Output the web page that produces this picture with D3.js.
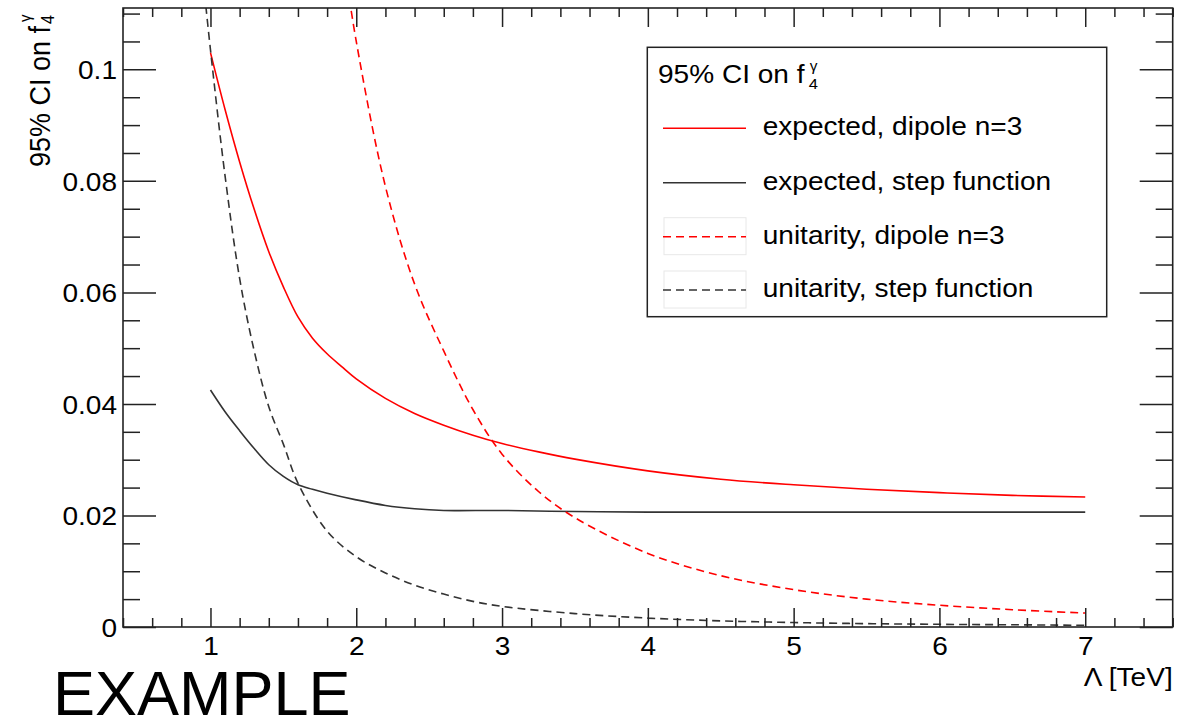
<!DOCTYPE html>
<html>
<head>
<meta charset="utf-8">
<script src="https://cdn.jsdelivr.net/npm/d3@7"></script>
<style>
  body { margin: 0; background: #fff; }
  svg { display: block; }
  text { font-family: "Liberation Sans", Arial, Helvetica, sans-serif; fill: #000; }
</style>
</head>
<body>
<svg id="chart" width="1181" height="718"></svg>
<script>
// values
const lambdaExpDipole = [1.0, 1.1, 1.2, 1.3, 1.4, 1.5, 1.6, 1.7, 1.8, 1.9, 2.0, 2.2, 2.4, 2.6, 2.8, 3.0, 3.25, 3.5, 4.0, 4.5, 5.0, 5.5, 6.0, 6.5, 7.0];
const ciExpDipole = [0.103, 0.0928, 0.0834, 0.0749, 0.0673, 0.061, 0.0556, 0.0518, 0.049, 0.0467, 0.0445, 0.041, 0.0383, 0.0362, 0.0344, 0.0329, 0.0314, 0.0301, 0.028, 0.0265, 0.0255, 0.0247, 0.0241, 0.0236, 0.0233];

const lambdaExpStep = [1.0, 1.1, 1.2, 1.3, 1.4, 1.5, 1.6, 1.7, 1.8, 2.0, 2.2, 2.4, 2.6, 3.0, 3.5, 4.0, 5.0, 6.0, 7.0];
const ciExpStep = [0.0425, 0.0386, 0.0352, 0.032, 0.0291, 0.027, 0.0255, 0.0247, 0.024, 0.0228, 0.0218, 0.0212, 0.0209, 0.0209, 0.0207, 0.0206, 0.0206, 0.0206, 0.0206];

const lambdaUniDipole = [1.9, 2.0, 2.2, 2.4, 2.6, 2.8, 3.0, 3.25, 3.5, 4.0, 4.5, 5.0, 5.5, 6.0, 6.5, 7.0];
const ciUniDipole = [0.122, 0.105, 0.079, 0.0615, 0.0495, 0.039, 0.031, 0.0243, 0.0196, 0.0132, 0.0092, 0.0067, 0.005, 0.0039, 0.0031, 0.0025];

const lambdaUniStep = [0.95, 1.0, 1.1, 1.2, 1.3, 1.4, 1.5, 1.6, 1.8, 2.0, 2.2, 2.4, 2.6, 2.8, 3.0, 3.5, 4.0, 4.5, 5.0, 5.5, 6.0, 6.5, 7.0];
const ciUniStep = [0.116, 0.1035, 0.0809, 0.0625, 0.0495, 0.0395, 0.0328, 0.0258, 0.0172, 0.0126, 0.0097, 0.0075, 0.0059, 0.0046, 0.0037, 0.0024, 0.0016, 0.0011, 0.0008, 0.0006, 0.00048, 0.0004, 0.0003];

const xTicks = [1, 2, 3, 4, 5, 6, 7];
const xTickLabels = ["1", "2", "3", "4", "5", "6", "7"];
const yTicks = [0, 0.02, 0.04, 0.06, 0.08, 0.1];
const yTickLabels = ["0", "0.02", "0.04", "0.06", "0.08", "0.1"];

const legendLabels = ["expected, dipole n=3", "expected, step function", "unitarity, dipole n=3", "unitarity, step function"];

var svg = d3.select("#chart"),
  margin = { top: 8, right: 8.3, bottom: 91, left: 123 },
  W = +svg.attr("width"),
  H = +svg.attr("height"),
  SX = 1.1; // text in the picture is a bit wide

const x = d3.scaleLinear().domain([0.4, 7.6]).range([margin.left, W - margin.right]);
const y = d3.scaleLinear().domain([0, 0.111]).range([H - margin.bottom, margin.top]);

const series = [
  { xs: lambdaExpDipole, ys: ciExpDipole, color: "#ff0000", dash: null },
  { xs: lambdaExpStep, ys: ciExpStep, color: "#333", dash: null },
  { xs: lambdaUniDipole, ys: ciUniDipole, color: "#ff0000", dash: "8,5" },
  { xs: lambdaUniStep, ys: ciUniStep, color: "#333", dash: "8,5" },
];

svg.append("defs").append("clipPath").attr("id", "clip")
  .append("rect")
  .attr("x", x.range()[0]).attr("y", y.range()[1])
  .attr("width", x.range()[1] - x.range()[0])
  .attr("height", y.range()[0] - y.range()[1]);

const line = d3.line()
  .x((d) => x(d[0]))
  .y((d) => y(d[1]))
  .curve(d3.curveCatmullRom.alpha(0.5));

svg.append("g").attr("clip-path", "url(#clip)")
  .selectAll("path")
  .data(series)
  .enter()
  .append("path")
  .attr("d", (s) => line(s.xs.map((v, i) => [v, s.ys[i]])))
  .attr("fill", "none")
  .attr("stroke", (s) => s.color)
  .attr("stroke-width", 1.6)
  .attr("stroke-dasharray", (s) => s.dash);

// axes, ticks inside the frame on all four sides
const xMinor = d3.range(4, 77, 2).map((v) => v / 10).filter((v) => !xTicks.includes(v));
const yMinor = d3.range(0, 112, 5).map((v) => v / 1000).filter((v) => !yTicks.some((t) => Math.abs(t - v) < 1e-9));

const styleTicks = (g) => {
  g.select(".domain").remove();
  g.selectAll(".tick line").attr("stroke", "#222").attr("stroke-width", 1.5);
};

svg.append("g").attr("transform", `translate(0,${y.range()[0]})`)
  .call(d3.axisBottom(x).tickValues(xTicks).tickSize(-19).tickPadding(10)
    .tickFormat((d, i) => xTickLabels[i]))
  .call(styleTicks)
  .call((g) => g.selectAll("text").attr("font-size", 25.5).attr("fill", "#000")
    .attr("transform", `scale(${SX},1)`));
svg.append("g").attr("transform", `translate(0,${y.range()[0]})`)
  .call(d3.axisBottom(x).tickValues(xMinor).tickSize(-9).tickFormat(""))
  .call(styleTicks);
svg.append("g").attr("transform", `translate(0,${y.range()[1]})`)
  .call(d3.axisTop(x).tickValues(xTicks).tickSize(-19).tickFormat(""))
  .call(styleTicks);
svg.append("g").attr("transform", `translate(0,${y.range()[1]})`)
  .call(d3.axisTop(x).tickValues(xMinor).tickSize(-9).tickFormat(""))
  .call(styleTicks);

svg.append("g").attr("transform", `translate(${x.range()[0]},0)`)
  .call(d3.axisLeft(y).tickValues(yTicks).tickSize(-33).tickPadding(6)
    .tickFormat((d, i) => yTickLabels[i]))
  .call(styleTicks)
  .call((g) => g.selectAll("text").attr("font-size", 25.5).attr("fill", "#000")
    .attr("x", -6 / SX).attr("dy", "0.36em")
    .attr("transform", `scale(${SX},1)`));
svg.append("g").attr("transform", `translate(${x.range()[0]},0)`)
  .call(d3.axisLeft(y).tickValues(yMinor).tickSize(-17).tickFormat(""))
  .call(styleTicks);
svg.append("g").attr("transform", `translate(${x.range()[1]},0)`)
  .call(d3.axisRight(y).tickValues(yTicks).tickSize(-33).tickFormat(""))
  .call(styleTicks);
svg.append("g").attr("transform", `translate(${x.range()[1]},0)`)
  .call(d3.axisRight(y).tickValues(yMinor).tickSize(-17).tickFormat(""))
  .call(styleTicks);

// frame
svg.append("rect")
  .attr("x", x.range()[0]).attr("y", y.range()[1])
  .attr("width", x.range()[1] - x.range()[0])
  .attr("height", y.range()[0] - y.range()[1])
  .attr("fill", "none").attr("stroke", "#222").attr("stroke-width", 1.6);

// axis titles
svg.append("text")
  .attr("transform", `translate(${x.range()[1]},686) scale(${SX},1)`)
  .attr("text-anchor", "end")
  .attr("font-size", 25.5)
  .text("\u039b [TeV]");

const yTitle = svg.append("g").attr("transform", `translate(50,167) scale(1.12,1) rotate(-90)`);
yTitle.append("text").attr("font-size", 27).text("95% CI on f");
yTitle.append("text").attr("x", 143).attr("y", 4).attr("font-size", 16).text("4");
yTitle.append("text").attr("x", 145).attr("y", -17).attr("font-size", 15).text("\u03b3");

// legend
const legend = svg.append("g");
legend.append("rect")
  .attr("x", 647.3).attr("y", 47.3).attr("width", 459.4).attr("height", 269.4)
  .attr("fill", "#fff").attr("stroke", "#222").attr("stroke-width", 1.5);

const lt = legend.append("g").attr("transform", `translate(658,83.3) scale(${SX},1)`);
lt.append("text").attr("font-size", 25.5).text("95% CI on f");
lt.append("text").attr("x", 137).attr("y", 6).attr("font-size", 15).text("4");
lt.append("text").attr("x", 138).attr("y", -12).attr("font-size", 14).text("\u03b3");

const rowY = [128.3, 182.7, 236.7, 290];
const rows = legend.selectAll("g.row")
  .data(series)
  .enter()
  .append("g")
  .attr("class", "row")
  .attr("transform", (d, i) => `translate(0,${rowY[i]})`);
rows.filter((d) => d.dash)
  .append("rect")
  .attr("x", 664).attr("y", -19).attr("width", 82).attr("height", 37)
  .attr("fill", "none").attr("stroke", "#e8e8e8").attr("stroke-width", 1);
rows.append("line")
  .attr("x1", 663).attr("x2", 746)
  .attr("stroke", (d) => d.color)
  .attr("stroke-width", 1.6)
  .attr("stroke-dasharray", (d) => d.dash);
rows.append("text")
  .attr("transform", `translate(762.7,7) scale(${SX},1)`)
  .attr("font-size", 25.5)
  .text((d, i) => legendLabels[i]);

// watermark
svg.append("text")
  .attr("x", 53).attr("y", 715)
  .attr("font-size", 63)
  .style("fill", "#000")
  .text("EXAMPLE");
</script>
</body>
</html>
